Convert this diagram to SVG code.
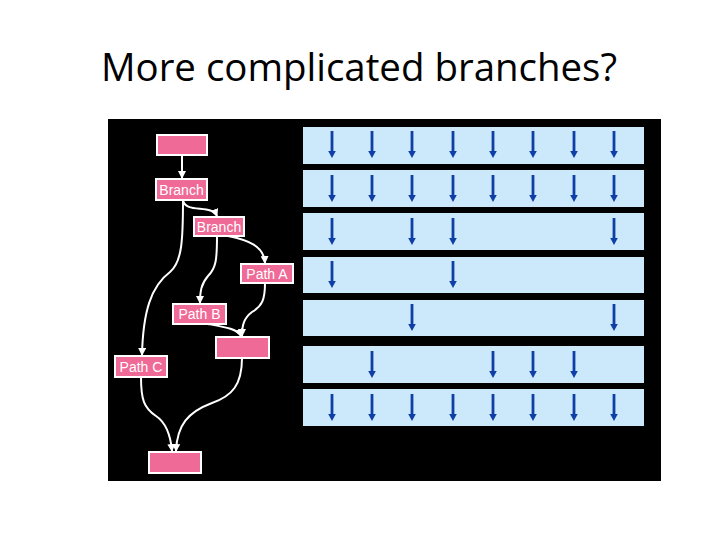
<svg xmlns="http://www.w3.org/2000/svg" xmlns:xlink="http://www.w3.org/1999/xlink" width="720" height="540" viewBox="0 0 720 540">
<style>
.node rect{fill:#ef6a96;stroke:#ffffff;stroke-width:2}
.node text{font-family:"Liberation Sans",Arial,sans-serif;font-size:14px;fill:#ffffff;text-anchor:middle}
.bar{fill:#cce9fb}
.conn path{fill:none;stroke:#ffffff;stroke-width:2;marker-end:url(#wa)}
</style>
<defs>
<marker id="wa" viewBox="0 0 8 8" refX="7" refY="4" markerWidth="4" markerHeight="4" orient="auto" markerUnits="strokeWidth">
<path d="M0,0 L8,4 L0,8 z" fill="#ffffff"/>
</marker>
<g id="ba">
<line x1="0" y1="0" x2="0" y2="22" stroke="#0e3ea6" stroke-width="2.8"/>
<polygon points="-3.8,20 3.8,20 0,27" fill="#0e3ea6"/>
</g>
</defs>
<rect width="720" height="540" fill="#ffffff"/>
<text x="359" y="81" font-family="'Open Sans','Liberation Sans',sans-serif" font-size="39" fill="#000000" text-anchor="middle" textLength="516" lengthAdjust="spacingAndGlyphs">More complicated branches?</text>
<rect x="108" y="119" width="553" height="362" fill="#000000"/>
<g id="bars">
<rect class="bar" x="303" y="127" width="341" height="37"/>
<rect class="bar" x="303" y="170" width="341" height="37"/>
<rect class="bar" x="303" y="213" width="341" height="37"/>
<rect class="bar" x="303" y="257" width="341" height="36"/>
<rect class="bar" x="303" y="300" width="341" height="36"/>
<rect class="bar" x="303" y="346" width="341" height="37"/>
<rect class="bar" x="303" y="389" width="341" height="37"/>
</g>
<g id="lanes">
<use xlink:href="#ba" x="332" y="131"/><use xlink:href="#ba" x="372" y="131"/><use xlink:href="#ba" x="412" y="131"/><use xlink:href="#ba" x="453" y="131"/><use xlink:href="#ba" x="493" y="131"/><use xlink:href="#ba" x="533" y="131"/><use xlink:href="#ba" x="574" y="131"/><use xlink:href="#ba" x="614" y="131"/>
<use xlink:href="#ba" x="332" y="175"/><use xlink:href="#ba" x="372" y="175"/><use xlink:href="#ba" x="412" y="175"/><use xlink:href="#ba" x="453" y="175"/><use xlink:href="#ba" x="493" y="175"/><use xlink:href="#ba" x="533" y="175"/><use xlink:href="#ba" x="574" y="175"/><use xlink:href="#ba" x="614" y="175"/>
<use xlink:href="#ba" x="332" y="218"/><use xlink:href="#ba" x="412" y="218"/><use xlink:href="#ba" x="453" y="218"/><use xlink:href="#ba" x="614" y="218"/>
<use xlink:href="#ba" x="332" y="261"/><use xlink:href="#ba" x="453" y="261"/>
<use xlink:href="#ba" x="412" y="304"/><use xlink:href="#ba" x="614" y="304"/>
<use xlink:href="#ba" x="372" y="351"/><use xlink:href="#ba" x="493" y="351"/><use xlink:href="#ba" x="533" y="351"/><use xlink:href="#ba" x="574" y="351"/>
<use xlink:href="#ba" x="332" y="394"/><use xlink:href="#ba" x="372" y="394"/><use xlink:href="#ba" x="412" y="394"/><use xlink:href="#ba" x="453" y="394"/><use xlink:href="#ba" x="493" y="394"/><use xlink:href="#ba" x="533" y="394"/><use xlink:href="#ba" x="574" y="394"/><use xlink:href="#ba" x="614" y="394"/>
</g>
<g id="connectors" class="conn">
<path d="M182,155 L182,178"/>
<path d="M183,200 C185,214 212,204 217,216"/>
<path d="M183,200 C183,240 182,262 170,272 C151,286 143,312 142,355"/>
<path d="M217,236 C217,260 216,268 208,276 C201,284 200,292 200,303"/>
<path d="M228,236 C248,240 264,246 265,263"/>
<path d="M265,283 C265,300 262,306 252,312 C244,318 242,325 242,336"/>
<path d="M208,324 C225,327 238,329 241,336"/>
<path d="M141,377 C141,400 144,408 156,416 C168,424 171,440 172,451"/>
<path d="M242,358 C242,385 232,396 212,403 C188,412 177,425 176,451"/>
</g>
<g id="start" class="node"><rect x="157" y="135" width="50" height="20"/></g>
<g id="branch1" class="node"><rect x="156" y="179" width="51" height="21"/><text x="181.5" y="195">Branch</text></g>
<g id="branch2" class="node"><rect x="194" y="217" width="50" height="19"/><text x="219" y="232">Branch</text></g>
<g id="pathA" class="node"><rect x="241" y="264" width="52" height="19"/><text x="267" y="279">Path A</text></g>
<g id="pathB" class="node"><rect x="173" y="304" width="53" height="20"/><text x="199.5" y="319">Path B</text></g>
<g id="merge" class="node"><rect x="216" y="337" width="53" height="21"/></g>
<g id="pathC" class="node"><rect x="115" y="356" width="52" height="21"/><text x="141" y="372">Path C</text></g>
<g id="end" class="node"><rect x="149" y="452" width="52" height="21"/></g>
</svg>
